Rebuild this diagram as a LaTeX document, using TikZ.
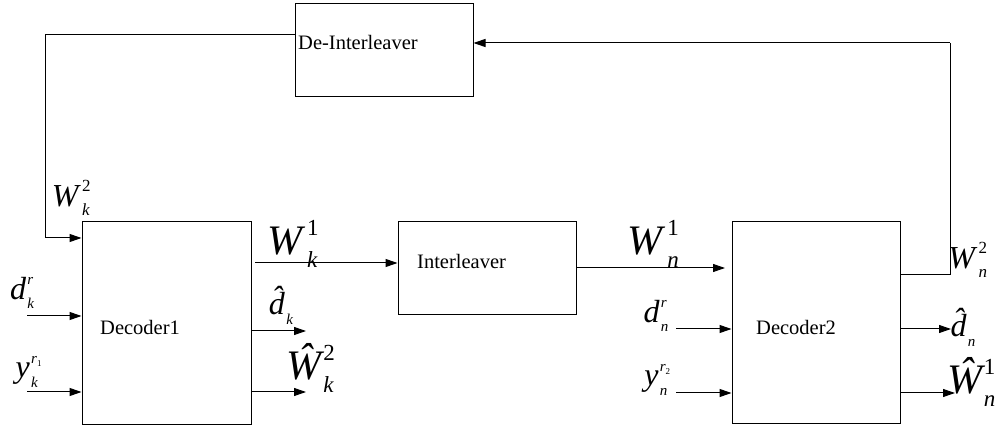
\documentclass[tikz,border=0pt]{standalone}
\usepackage{fontspec}
\setmainfont{Liberation Serif}
\usetikzlibrary{arrows.meta,calc}
% #1 letter, #2 sub, #3 sup, #4 small size
\newcommand\stk[4]{\textit{#1}\kern0.04em\rlap{\raisebox{0.45em}{\fontsize{#4}{#4}\selectfont #3}}\rlap{\raisebox{-0.3em}{\fontsize{#4}{#4}\selectfont\itshape #2}}\hphantom{\fontsize{#4}{#4}\selectfont #3\itshape #2}}
% #1 letter, #2 sub, #3 small size
\newcommand\sbo[3]{#1\kern0.04em\raisebox{-0.3em}{\fontsize{#3}{#3}\selectfont\itshape #2}}
\newcommand\hatd{\rlap{\textit{\^{d}}}\hphantom{\textit{d}}}
\newcommand\hatW{\rlap{\textit{\^{W}}}\hphantom{\textit{W}}}
\begin{document}
\begin{tikzpicture}[x=1pt,y=-1pt,
  blk/.style={draw,line width=1pt,inner sep=0pt},
  wire/.style={line width=1pt},
  arr/.style={line width=1pt,-{Triangle[length=12pt,width=8pt]}},
  btxt/.style={font=\fontsize{20.5}{24}\selectfont,inner sep=0pt,anchor=base west},
  lab/.style={inner sep=0pt},
  big/.style={font=\fontsize{42}{46}\selectfont},
  mid/.style={font=\fontsize{32}{36}\selectfont}]
\useasboundingbox (0,0) rectangle (1005,430);
% boxes
\node[blk,minimum width=178pt,minimum height=93pt] (deint) at (384,50.5) {};
\node[blk,minimum width=169pt,minimum height=203pt] (dec1) at (166.5,323.5) {};
\node[blk,minimum width=178pt,minimum height=93pt] (inter) at (487,268.5) {};
\node[blk,minimum width=168pt,minimum height=202pt] (dec2) at (816,323) {};
% box texts
\node[btxt] (tdeint) at (298,50) {De-Interleaver};
\node[btxt] (tinter) at (417,269) {Interleaver};
\node[btxt] (tdec1) at (100,335) {Decoder1};
\node[btxt] (tdec2) at (756,335) {Decoder2};
% coordinates
\coordinate (fbL) at (45,35);
\coordinate (fbD) at (45,238);
\coordinate (w1s) at (255,263);
\coordinate (w1n) at (576,268);
\coordinate (w1e) at (725,268);
\coordinate (fbR) at (950,275);
\coordinate (fbT) at (950,43);
\coordinate (dkrS) at (27,316);
\coordinate (ykS) at (27,392);
\coordinate (dkE) at (306,331);
\coordinate (WkE) at (306,392);
\coordinate (dnrS) at (676,329);
\coordinate (ynS) at (676,393);
\coordinate (dnE) at (951,329);
\coordinate (WnE) at (955,393);
% connectors
\draw[wire] (deint.west |- fbL) -- (fbL) -- (fbD);
\draw[arr] (fbD) -- (dec1.west |- fbD);
\draw[arr] (w1s) -- (inter.west |- w1s);
\draw[arr] (inter.east |- w1n) -- (w1e);
\draw[wire] (dec2.east |- fbR) -- (fbR) -- (fbT);
\draw[arr] (fbT) -- (deint.east |- fbT);
\draw[arr] (dkrS) -- (dec1.west |- dkrS);
\draw[arr] (ykS) -- (dec1.west |- ykS);
\draw[arr] (dec1.east |- dkE) -- (dkE);
\draw[arr] (dec1.east |- WkE) -- (WkE);
\draw[arr] (dnrS) -- (dec2.west |- dnrS);
\draw[arr] (ynS) -- (dec2.west |- ynS);
\draw[arr] (dec2.east |- dnE) -- (dnE);
\draw[arr] (dec2.east |- WnE) -- (WnE);
% labels
\node[lab,mid] (lWk2) at (75,198) {\stk{W}{k}{2}{17}};
\node[lab,big] (lWk1) at (298,244) {\stk{W}{k}{1}{23}};
\node[lab,mid] (ldkr) at (25,293) {\stk{d}{k}{\textit{r}}{15}};
\node[lab,mid] (lykr) at (32,372) {\stk{y}{k}{\textit{r}\raisebox{-0.2em}{\fontsize{9}{9}\selectfont 1}}{15}};
\node[lab,mid] (ldkh) at (281,305) {\sbo{\hatd}{k}{15}};
\node[lab,big] (lWkh) at (316,368) {\stk{\hatW}{k}{2}{23}};
\node[lab,big] (lWn1) at (659,244) {\stk{W}{n}{1}{23}};
\node[lab,mid] (ldnr) at (659,316) {\stk{d}{n}{\textit{r}}{15}};
\node[lab,mid] (lynr) at (661,380) {\stk{y}{n}{\textit{r}\raisebox{-0.2em}{\fontsize{9}{9}\selectfont 2}}{15}};
\node[lab,mid] (lWn2) at (972,260) {\stk{W}{n}{2}{17}};
\node[lab,mid] (ldnh) at (963,327) {\sbo{\hatd}{n}{15}};
\node[lab,big] (lWnh) at (977,382) {\stk{\hatW}{n}{1}{23}};
\end{tikzpicture}
\end{document}
